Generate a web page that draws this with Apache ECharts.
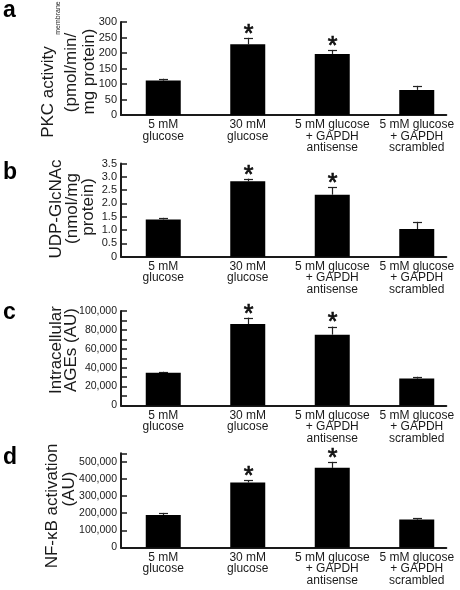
<!DOCTYPE html>
<html><head><meta charset="utf-8">
<script src="https://cdn.jsdelivr.net/npm/echarts@6/dist/echarts.min.js"></script>
<style>html,body{margin:0;padding:0;background:#fff}#c{width:460px;height:590px}</style>
</head><body><div id="c"></div>
<script>
// ---- data ----
const categories = ['5 mM\nglucose', '30 mM\nglucose', '5 mM glucose\n+ GAPDH\nantisense', '5 mM glucose\n+ GAPDH\nscrambled'];
const significant = [false, true, true, false];

const pkcMean = [111, 228, 197, 81];
const pkcErr  = [6, 21, 13, 13];
const pkcTicks = [0, 50, 100, 150, 200, 250, 300];

const udpMean = [1.40, 2.83, 2.33, 1.04];
const udpErr  = [0.06, 0.10, 0.27, 0.27];
const udpTicks = [0, 0.5, 1.0, 1.5, 2.0, 2.5, 3.0, 3.5];

const agesMean = [34700, 86200, 75000, 28500];
const agesErr  = [1000, 6800, 8500, 1900];
const agesTicks = [0, 20000, 40000, 60000, 80000, 100000];
const agesMinorStep = 10000;

const nfkbMean = [190000, 380000, 465000, 163000];
const nfkbErr  = [12000, 12000, 35000, 8000];
const nfkbTicks = [0, 100000, 200000, 300000, 400000, 500000];
const nfkbAxisTop = 550000;

// ---- layout ----
const FONT = '"Liberation Sans", Arial, Helvetica, sans-serif';
const INK = '#1a1a1a';
const gridL = 121, bandW = 84.5, xMin = -0.5, xMax = 3.35;
const gridW = (xMax - xMin) * bandW;

const panels = [
  {mean: pkcMean, err: pkcErr, top: 22, height: 93, max: 300, interval: 50, ticks: pkcTicks, fmt: v => String(v), lf: 11},
  {mean: udpMean, err: udpErr, top: 163.5, height: 93.2, max: 3.5, interval: 0.5, ticks: udpTicks, fmt: v => v === 0 ? '0' : v.toFixed(1), lf: 11},
  {mean: agesMean, err: agesErr, top: 311, height: 94.5, max: 100000, interval: agesMinorStep, ticks: agesTicks, fmt: v => v.toLocaleString('en-US'), lf: 10.5},
  {mean: nfkbMean, err: nfkbErr, top: 453.3, height: 94.2, max: nfkbAxisTop, interval: 100000, ticks: nfkbTicks, fmt: v => v.toLocaleString('en-US'), lf: 10.5}
];

const grid = [], xAxis = [], yAxis = [], series = [];
panels.forEach((p, k) => {
  grid.push({left: gridL, width: gridW, top: p.top, height: p.height});
  xAxis.push({
    type: 'value', gridIndex: k, min: xMin, max: xMax, interval: 0.5,
    axisLine: {show: true, onZero: false, lineStyle: {color: INK, width: 2}},
    axisTick: {show: false}, splitLine: {show: false},
    axisLabel: {
      margin: 4, fontSize: 12, lineHeight: 11.5, color: INK, fontFamily: FONT,
      formatter: v => {
        const r = Math.round(v);
        return (Math.abs(v - r) < 1e-6 && r >= 0 && r < categories.length) ? categories[r] : '';
      }
    }
  });
  yAxis.push({
    type: 'value', gridIndex: k, min: 0, max: p.max, interval: p.interval,
    axisLine: {show: true, onZero: false, lineStyle: {color: INK, width: 2}},
    axisTick: {show: true, inside: true, length: 6, lineStyle: {color: INK, width: 1.5}},
    splitLine: {show: false},
    axisLabel: {
      margin: 4, fontSize: p.lf, color: INK, fontFamily: FONT,
      formatter: v => p.ticks.some(t => Math.abs(t - v) < 1e-9) ? p.fmt(v) : ''
    }
  });
  series.push({
    type: 'bar', xAxisIndex: k, yAxisIndex: k, barWidth: 35,
    itemStyle: {color: '#000'},
    data: p.mean.map((m, i) => [i, m]),
    silent: true, animation: false
  });
  series.push({
    type: 'custom', xAxisIndex: k, yAxisIndex: k, animation: false, silent: true,
    encode: {x: 0, y: [1, 2]},
    data: p.mean.map((m, i) => [i, m, m + p.err[i], significant[i] ? 1 : 0]),
    renderItem: (params, api) => {
      const x = api.value(0);
      const p0 = api.coord([x, api.value(1)]);
      const p1 = api.coord([x, api.value(2)]);
      const cx = Math.round(p0[0]) + 0.5;
      const children = [
        {type: 'line', shape: {x1: cx, y1: p0[1], x2: cx, y2: p1[1]}, style: {stroke: '#222', lineWidth: 1.2}},
        {type: 'line', shape: {x1: cx - 4.5, y1: Math.round(p1[1]) + 0.5, x2: cx + 4.5, y2: Math.round(p1[1]) + 0.5}, style: {stroke: '#222', lineWidth: 1.2}}
      ];
      if (api.value(3)) {
        children.push({type: 'text', x: cx, y: p1[1] - 3,
          style: {text: '*', fontSize: 25, fontFamily: FONT, fill: '#111', stroke: '#111', lineWidth: 0.7,
                  align: 'center', verticalAlign: 'middle'}});
      }
      return {type: 'group', children};
    }
  });
});

// ---- titles / panel letters ----
function vtext(text, x, y, size) {
  return {type: 'text', x, y, rotation: Math.PI / 2, silent: true,
    style: {text, fontSize: size || 17, fontFamily: FONT, fill: INK, align: 'center', verticalAlign: 'middle'}};
}
function letter(text, x, y) {
  return {type: 'text', x, y, silent: true,
    style: {text, fontSize: 23, fontWeight: 'bold', fontFamily: FONT, fill: '#000', align: 'left', verticalAlign: 'middle'}};
}
const graphic = [
  letter('a', 3, 11), letter('b', 3, 172.5), letter('c', 3, 313), letter('d', 3, 457.5),
  vtext('PKC activity', 48, 92), vtext('membrane', 58.5, 18, 7), vtext('(pmol/min/', 71.5, 72.5), vtext('mg protein)', 89, 71.5),
  vtext('UDP-GlcNAc', 56, 209), vtext('(nmol/mg', 72, 208.5), vtext('protein)', 88, 207),
  vtext('Intracellular', 56, 350), vtext('AGEs (AU)', 71.5, 350),
  vtext('NF-κB activation', 52.5, 506), vtext('(AU)', 69.5, 489)
];

const chart = echarts.init(document.getElementById('c'), null, {renderer: 'canvas'});
chart.setOption({animation: false, backgroundColor: '#fff', grid, xAxis, yAxis, series, graphic});
</script></body></html>
